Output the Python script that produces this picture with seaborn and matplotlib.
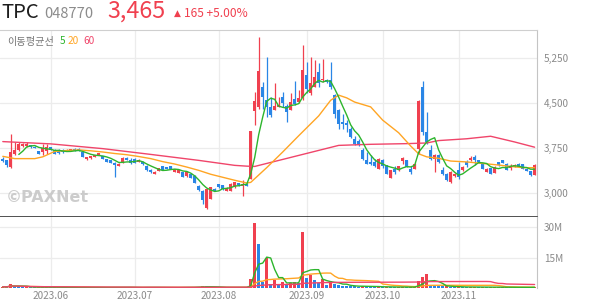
import numpy as np
import pandas as pd
import matplotlib
matplotlib.use("Agg")
import matplotlib.pyplot as plt
import seaborn as sns

# ---------------- data ----------------
opens = [3565, 3540, 3430, 3640, 3710, 3775, 3785, 3790, 3760, 3700,
         3680, 3700, 3755, 3720, 3720, 3720, 3695, 3700, 3730, 3730,
         3680, 3565, 3575, 3595, 3630, 3610, 3565, 3540, 3495, 3455,
         3495, 3585, 3545, 3560, 3520, 3520, 3455, 3385, 3320, 3365,
         3440, 3430, 3440, 3345, 3330, 3340, 3275, 3320, 3285, 3120,
         3040, 2755, 2905, 3070, 3140, 3125, 3030, 3040, 3095, 3165,
         3110, 3155, 3230, 4365, 4420, 4765, 4540, 4420, 4385, 4430,
         4600, 4440, 4385, 4555, 4515, 4570, 4960, 4665, 4765, 5015,
         4875, 4885, 4885, 4625, 4375, 4180, 4165, 4070, 3890, 3865,
         3720, 3540, 3515, 3515, 3405, 3540, 3460, 3255, 3395, 3375,
         3530, 3540, 3405, 3405, 3735, 4765, 4015, 3720, 3570, 3625,
         3385, 3320, 3180, 3275, 3375, 3375, 3515, 3540, 3595, 3540,
         3495, 3350, 3415, 3330, 3515, 3540, 3485, 3420, 3430, 3475,
         3475, 3405, 3365, 3300]
highs = [3590, 3555, 3975, 3845, 3850, 3830, 3850, 3800, 3775, 3705,
         3810, 3820, 3770, 3730, 3725, 3725, 3725, 3735, 3740, 3740,
         3700, 3605, 3615, 3635, 3670, 3615, 3570, 3550, 3510, 3495,
         3600, 3595, 3585, 3575, 3560, 3525, 3460, 3390, 3360, 3415,
         3445, 3435, 3445, 3400, 3380, 3350, 3360, 3330, 3290, 3130,
         3050, 3070, 3100, 3075, 3145, 3130, 3095, 3160, 3180, 3170,
         3220, 3165, 4030, 4680, 5585, 4850, 5265, 4600, 4820, 4600,
         4680, 4470, 4655, 4865, 4710, 5460, 5180, 5265, 5210, 5155,
         5220, 4900, 5180, 4650, 4400, 4320, 4210, 4100, 3950, 3890,
         3750, 3680, 3625, 3570, 3580, 3560, 3470, 3380, 3440, 3445,
         3605, 3545, 3440, 3500, 4540, 4865, 4345, 3790, 3640, 3640,
         3430, 3330, 3360, 3330, 3515, 3440, 3540, 3610, 3625, 3545,
         3500, 3410, 3420, 3440, 3520, 3545, 3490, 3480, 3480, 3490,
         3480, 3410, 3370, 3475]
lows = [3515, 3430, 3410, 3625, 3700, 3765, 3760, 3745, 3740, 3645,
        3625, 3650, 3710, 3640, 3650, 3670, 3690, 3695, 3690, 3695,
        3590, 3555, 3570, 3590, 3625, 3560, 3515, 3490, 3265, 3450,
        3490, 3550, 3485, 3490, 3515, 3470, 3370, 3335, 3315, 3360,
        3380, 3390, 3390, 3340, 3325, 3260, 3270, 3250, 3160, 3040,
        2820, 2740, 2900, 3035, 3085, 3050, 3025, 3035, 3090, 3120,
        2950, 3110, 3225, 4125, 4400, 4400, 4265, 4265, 4375, 4420,
        4430, 4180, 4380, 4460, 4490, 4540, 4655, 4625, 4760, 4765,
        4845, 4830, 4735, 4250, 4070, 4070, 4015, 3910, 3800, 3780,
        3545, 3475, 3460, 3430, 3395, 3420, 3310, 3240, 3320, 3370,
        3485, 3425, 3320, 3395, 3650, 3960, 3820, 3540, 3345, 3505,
        3300, 3195, 3170, 3270, 3235, 3370, 3430, 3535, 3460, 3500,
        3395, 3345, 3315, 3325, 3455, 3490, 3380, 3380, 3425, 3425,
        3400, 3360, 3275, 3290]
closes = [3530, 3460, 3680, 3720, 3805, 3805, 3820, 3755, 3750, 3655,
          3740, 3760, 3720, 3655, 3665, 3680, 3720, 3730, 3700, 3700,
          3600, 3600, 3610, 3630, 3665, 3565, 3520, 3495, 3465, 3485,
          3575, 3555, 3500, 3500, 3555, 3475, 3375, 3340, 3355, 3410,
          3385, 3395, 3395, 3395, 3375, 3265, 3355, 3255, 3165, 3045,
          2880, 3060, 3095, 3040, 3095, 3060, 3090, 3150, 3175, 3125,
          3150, 3115, 4025, 4530, 5030, 4600, 4420, 4290, 4440, 4465,
          4500, 4350, 4515, 4485, 4570, 5040, 4735, 4820, 4930, 4830,
          4900, 4850, 4755, 4320, 4140, 4140, 4125, 3930, 3820, 3795,
          3560, 3485, 3475, 3440, 3570, 3440, 3320, 3375, 3355, 3440,
          3585, 3430, 3350, 3485, 4530, 4015, 3845, 3570, 3625, 3515,
          3320, 3220, 3345, 3320, 3265, 3430, 3460, 3585, 3540, 3510,
          3405, 3405, 3320, 3430, 3460, 3500, 3385, 3440, 3470, 3430,
          3405, 3365, 3300, 3465]
volumes_m = [0.6, 0.5, 1.85, 0.9, 0.7, 0.5, 0.5, 0.4, 0.3, 0.4,
             0.5, 0.5, 0.3, 0.3, 0.3, 0.3, 0.2, 0.2, 0.2, 0.2,
             0.4, 0.3, 0.2, 0.2, 0.3, 0.3, 0.3, 0.3, 0.5, 0.3,
             0.4, 0.2, 0.3, 0.3, 0.2, 0.2, 0.4, 0.3, 0.2, 0.3,
             0.2, 0.2, 0.2, 0.2, 0.2, 0.3, 0.3, 0.3, 0.4, 0.6,
             0.9, 0.8, 0.5, 0.3, 0.3, 0.3, 0.2, 0.3, 0.3, 0.2,
             0.4, 0.2, 4.35, 32.35, 21.85, 3.0, 15.0, 2.2, 3.85, 1.7,
             3.0, 1.7, 2.7, 3.0, 2.6, 27.7, 5.0, 6.35, 3.85, 2.5,
             4.35, 1.35, 3.7, 2.0, 1.5, 1.2, 1.0, 0.9, 0.8, 0.7,
             1.0, 0.8, 0.6, 0.5, 0.7, 0.5, 0.6, 0.5, 0.4, 0.4,
             0.6, 0.4, 0.4, 0.5, 3.35, 5.35, 6.85, 1.5, 1.2, 1.0,
             0.8, 0.8, 0.6, 0.5, 0.6, 0.5, 0.4, 0.5, 0.5, 0.4,
             0.5, 0.4, 0.4, 0.4, 0.4, 0.4, 0.4, 0.3, 0.3, 0.3,
             0.3, 0.3, 0.4, 0.5]

# moving-average lines (candle index, value)
ma20_idx = [0, 3, 8, 10, 13, 16, 19, 22, 25, 28, 31, 34, 37, 40, 43, 46, 49, 52, 55, 58, 61,
            62, 66, 70, 74, 79, 82, 84, 86, 88, 92, 95, 99, 102, 104, 106, 109, 112, 116,
            120, 123, 127, 130, 133]
ma20_val = [3608, 3570, 3570, 3600, 3690, 3705, 3715, 3700, 3680, 3655, 3635, 3605, 3570,
            3520, 3480, 3430, 3375, 3310, 3260, 3210, 3165,
            3175, 3420, 3680, 3950, 4280, 4540, 4625, 4580, 4510, 4430, 4210, 4000, 3780,
            3650, 3600, 3575, 3530, 3515, 3490, 3470, 3440, 3420, 3419]
ma60_idx = [0, 12, 25, 37, 49, 58, 61, 63, 84, 92, 101, 106, 109, 116, 122, 128, 133]
ma60_val = [3853, 3815, 3736, 3640, 3541, 3458, 3445, 3440, 3790, 3808, 3819, 3830, 3870,
            3900, 3942, 3847, 3760]

month_idx = [12, 33, 54, 76, 95, 114]
month_labels = ["2023.06", "2023.07", "2023.08", "2023.09", "2023.10", "2023.11"]
price_ticks = [3000, 3750, 4500, 5250]
vol_ticks_m = [15, 30]

# ---------------- style ----------------
sns.set_theme(style="white")
plt.rcParams["font.family"] = ["Noto Sans CJK KR", "DejaVu Sans"]

RED = "#F0404F"
BLUE = "#2A86E6"
G5 = "#2DB52D"
O20 = "#FFA524"
R60 = "#F0456A"
GRID = "#ECECEC"
TXT = "#8A8A8A"

W, H = 594, 304
fig = plt.figure(figsize=(W / 100, H / 100), dpi=100)


def fx(px):
    return px / W


def fy(py):
    return 1 - py / H


ax = fig.add_axes([0, fy(216.5), fx(537), (216.5 - 30) / H])
axv = fig.add_axes([0, fy(288), fx(537), (288 - 217) / H])

n = len(closes)
x = np.arange(n)
df = pd.DataFrame({"x": x, "open": opens, "high": highs, "low": lows,
                   "close": closes, "vol": np.array(volumes_m) * 1e6})
df["ma5"] = df["close"].rolling(5).mean()
df["vma5"] = df["vol"].rolling(5, min_periods=1).mean()
df["vma20"] = df["vol"].rolling(20, min_periods=1).mean()
df["vma60"] = df["vol"].rolling(60, min_periods=1).mean()

up = df["close"] >= df["open"]
ccol = np.where(up, RED, BLUE)

XL = (-0.7, 133.6)

# ---- price panel ----
ax.set_xlim(*XL)
ax.set_ylim(2608, 5708)
ax.set_axisbelow(True)
ax.grid(True, color=GRID, lw=0.9)
ax.set_xticks(month_idx)
ax.set_xticklabels([])
ax.set_yticks(price_ticks)
ax.yaxis.tick_right()
ax.set_yticklabels([f"{v:,}" for v in price_ticks])
ax.tick_params(axis="y", length=0, pad=5, labelsize=7.2, labelcolor=TXT)
ax.tick_params(axis="x", length=0)
ax.spines["left"].set_visible(False)
ax.spines["top"].set_color("#CFCFCF")
ax.spines["top"].set_linewidth(0.8)
ax.spines["right"].set_color("#C4C4C4")
ax.spines["right"].set_linewidth(0.8)
ax.spines["bottom"].set_color("#333333")
ax.spines["bottom"].set_linewidth(1.2)

ax.vlines(df["x"], df["low"], df["high"], colors=ccol, lw=0.9, zorder=2)
body_lo = np.minimum(df["open"], df["close"])
body_h = np.maximum(np.abs(df["close"] - df["open"]), 18)
ax.bar(df["x"], body_h, bottom=body_lo, width=0.74, color=ccol, linewidth=0, zorder=3)

sns.lineplot(x=ma60_idx, y=ma60_val, ax=ax, color=R60, lw=1.0, zorder=4)
sns.lineplot(x=ma20_idx, y=ma20_val, ax=ax, color=O20, lw=1.0, zorder=4)
sns.lineplot(data=df, x="x", y="ma5", ax=ax, color=G5, lw=1.0, zorder=5)
ax.set_xlabel("")
ax.set_ylabel("")

ax.text(0.011, 0.063, "©PAXNet", transform=ax.transAxes, fontsize=11.5,
        fontweight="bold", color="#C4C4C4", alpha=0.85, va="bottom", ha="left",
        family=["DejaVu Sans"])

# ---- volume panel ----
axv.set_xlim(*XL)
axv.set_ylim(0, 35.2e6)
axv.set_axisbelow(True)
axv.grid(True, color=GRID, lw=0.9)
axv.set_xticks(month_idx)
axv.set_xticklabels(month_labels)
axv.set_yticks([v * 1e6 for v in vol_ticks_m])
axv.yaxis.tick_right()
axv.set_yticklabels([f"{v}M" for v in vol_ticks_m])
axv.tick_params(axis="y", length=0, pad=5, labelsize=7.2, labelcolor=TXT)
axv.tick_params(axis="x", length=0, pad=2, labelsize=7.2, labelcolor=TXT)
for s in ["left", "top", "bottom"]:
    axv.spines[s].set_visible(False)
axv.spines["right"].set_color("#C4C4C4")
axv.spines["right"].set_linewidth(0.8)

vol_up = df["vol"].diff().fillna(1) >= 0
vcol = np.where(vol_up, RED, BLUE)
axv.bar(df["x"], df["vol"], width=0.74, color=vcol, linewidth=0, zorder=2)
sns.lineplot(data=df, x="x", y="vma20", ax=axv, color=O20, lw=1.0, zorder=3)
sns.lineplot(data=df, x="x", y="vma5", ax=axv, color=G5, lw=1.0, zorder=4)
sns.lineplot(data=df, x="x", y="vma60", ax=axv, color=R60, lw=1.0, zorder=5)
axv.set_xlabel("")
axv.set_ylabel("")

# ---- header ----
base = fy(17.6)
fig.text(fx(1), base, "TPC", fontsize=14.6, color="#1E1E1E", va="baseline", ha="left")
fig.text(fx(44), base, "048770", fontsize=10.6, color="#8C8C8C", va="baseline", ha="left")
fig.text(fx(107), base + 0.3 / H, "3,465", fontsize=16.8, color=RED, va="baseline", ha="left")
fig.text(fx(174), fy(15.5), "▲", fontsize=6.5, color=RED, va="baseline", ha="left",
         family=["DejaVu Sans"])
fig.text(fx(184), fy(16.8), "165 +5.00%", fontsize=8.6, color=RED, va="baseline", ha="left")

# ---- MA legend ----
ly = fy(41.5)
fig.text(fx(7), ly, "이동평균선", fontsize=7.3, color="#777777", va="center", ha="left")
fig.text(fx(60), ly, "5", fontsize=7.3, color=G5, va="center", ha="left")
fig.text(fx(68), ly, "20", fontsize=7.3, color=O20, va="center", ha="left")
fig.text(fx(83), ly, "60", fontsize=7.3, color=R60, va="center", ha="left")

fig.savefig("out.png", dpi=100)
